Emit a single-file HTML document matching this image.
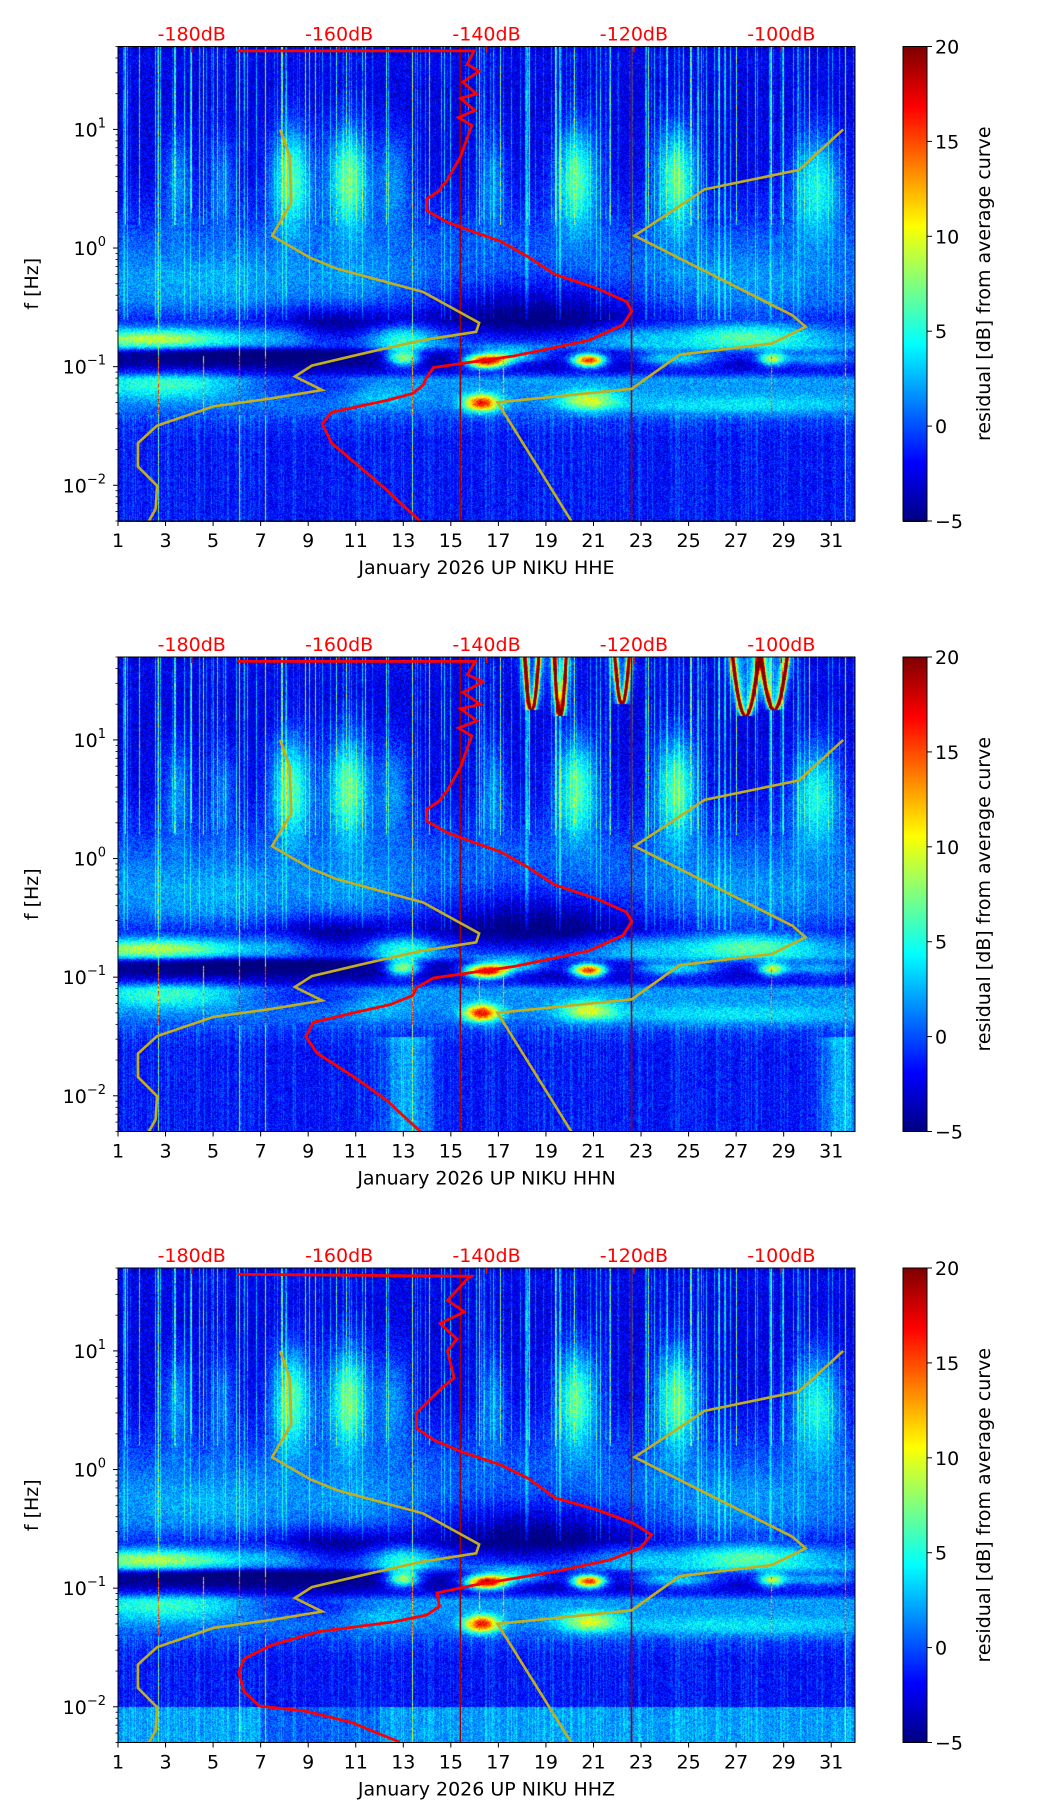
<!DOCTYPE html>
<html><head><meta charset="utf-8"><style>
html,body{margin:0;padding:0;background:#fff;}
#wrap{position:relative;width:1052px;height:1806px;overflow:hidden;font-family:"DejaVu Sans","Liberation Sans",sans-serif;}
canvas{position:absolute;}
svg{position:absolute;left:0;top:0;}
</style></head><body>
<div id="wrap">
<canvas id="c0"></canvas>
<canvas id="c1"></canvas>
<canvas id="c2"></canvas>
<canvas id="cb0"></canvas>
<canvas id="cb1"></canvas>
<canvas id="cb2"></canvas>
<svg id="ov" width="1052" height="1806"></svg>
</div>
<script>
// ---- data arrays ----
const channels = ["HHE","HHN","HHZ"];
const xTicks = [1,3,5,7,9,11,13,15,17,19,21,23,25,27,29,31];
const dbTicks = [-180,-160,-140,-120,-100];
const yTickExp = [1,0,-1,-2];
const cbTicks = [20,15,10,5,0,-5];
// base residual profile vs log10(f)
const baseLf = [1.7,1.62,1.3,0.6,0.3,0.1,-0.2,-0.45,-0.6,-0.72,-0.82,-0.88,-0.97,-1.04,-1.1,-1.25,-1.35,-1.45,-1.6,-2.31];
const baseV  = [-2.8,-2.2,-2.6,-2.3,-1.2,0,0.6,0.2,-1.5,0.5,1.5,-3,-4.2,-2,2,1.5,0.8,-0.8,-1.8,-1.8];
// blobs: day, log f, value, day-sigma, logf-sigma
const blobDay = [8.3,10.7,12.6,20.3,24.5,30.4,3.5,5.4,16.8, 3,11,27,6, 18.5,10, 2.5,13,27.5,22.5,8, 6, 16.5,20.8,13,28.5,25,30.5,17.6,23.5, 16.3,20.8,3,9, 27,12];
const blobLf  = [0.6,0.6,0.6,0.6,0.6,0.55,0.6,0.6,0.6, -0.3,-0.3,-0.3,-0.3, -0.55,-0.65, -0.76,-0.75,-0.74,-0.74,-0.72, -0.88, -0.95,-0.94,-0.92,-0.93,-0.93,-0.93,-0.9,-0.93, -1.3,-1.28,-1.15,-1.15, -1.32,-1.25];
const blobV   = [8.5,9,4,8.5,8.5,7,4,3,3.5, 1.5,1.5,1.5,1, -4.5,-3.5, 8,6,6,3,2, -4, 20,20,12,10,6,6,8,4, 16,8,4,-3, 3,2];
const blobSd  = [0.6,0.6,0.5,0.6,0.6,0.7,0.4,0.4,0.4, 2.5,2,2.5,1.5, 3.5,2, 2.5,1,2,1.5,1, 4, 0.6,0.5,0.5,0.4,1,1.5,1.2,0.8, 0.5,0.8,2,2, 4,1];
const blobSl  = [0.3,0.3,0.28,0.3,0.3,0.3,0.28,0.28,0.28, 0.2,0.2,0.2,0.2, 0.2,0.12, 0.06,0.08,0.08,0.08,0.08, 0.05, 0.04,0.04,0.05,0.04,0.05,0.05,0.05,0.05, 0.05,0.06,0.08,0.08, 0.06,0.08];
// transient stripes: day, lf-low, lf-high, value
const stripeDay = [1.3,1.9,2.7,3.4,4.1,4.6,5.2,6.1,7.2,7.9,8.9,9.3,10.2,10.6,11.4,12.3,13.4,14.1,16.2,17.1,18.3,19.4,20.2,21.7,23.3,24.1,25.1,26.3,27.0,28.5,29.0,30.1,31.6, 2.7,6.1,7.2,13.4,16.2,17.2,28.5,31.6,4.6];
const stripeLo  = [0.2,0.2,-2.3,0.2,0.3,0.2,0.2,-2.3,-2.3,0.2,0.2,0.2,0.2,0.2,0.2,0.2,-2.3,0.2,0.2,0.2,0.2,0.2,0.2,0.2,0.2,0.2,0.2,0.2,0.2,0.2,0.2,0.2,-2.3, -1.4,-1.4,-1.4,-1.4,-1.4,-1.4,-1.4,-1.4,-1.4];
const stripeHi  = [1.7,1.7,1.7,1.7,1.7,1.7,1.7,1.7,1.7,1.7,1.7,1.7,1.7,1.7,1.7,1.7,1.7,1.7,1.7,1.7,1.7,1.7,1.7,1.7,1.7,1.7,1.7,1.7,1.7,1.7,1.7,1.7,1.7, -0.9,-0.9,-0.9,-0.9,-0.9,-0.9,-0.9,-0.9,-0.9];
const stripeV   = [6,5,7,5,7,6,5,8,8,6,7,6,6,6,5,6,8,6,7,7,6,7,7,6,7,5,6,6,7,8,6,7,8, 14,16,16,14,12,12,14,14,12];
// V-shaped ringing features (panel HHN): day, half width, lf bottom
const vDay = [18.4,19.6,22.2,27.4,28.6];
const vW   = [0.3,0.25,0.3,0.55,0.55];
const vBot = [1.25,1.2,1.3,1.2,1.25];
// noise models (dB, log f)
const nlnmDb = [-168.0,-166.7,-166.5,-169.1,-163.9,-160.3,-148.6,-141.0,-141.4,-148.8,-155.9,-163.7,-166.0,-162.3,-169.2,-177.0,-184.7,-187.3,-187.3,-184.7,-184.9,-185.8];
const nlnmLf = [1.0,0.773,0.381,0.104,-0.083,-0.174,-0.370,-0.631,-0.706,-0.778,-0.877,-0.991,-1.083,-1.197,-1.268,-1.334,-1.497,-1.644,-1.841,-2.003,-2.20,-2.30];
const nhnmDb = [-91.6,-97.6,-110.4,-119.9,-98.5,-96.7,-101.3,-113.8,-120.3,-138.5,-128.5];
const nhnmLf = [1.0,0.659,0.495,0.104,-0.566,-0.664,-0.805,-0.899,-1.187,-1.301,-2.30];
// average curves (dB, log f) per channel
const redDbE = [-173.8,-141.7,-142.6,-141.0,-143.2,-141.4,-143.5,-141.6,-143.8,-142.0,-143.5,-145.3,-146.5,-148.1,-148.1,-145.3,-141.7,-138.0,-134.3,-130.7,-125.1,-121.0,-120.3,-121.5,-126.1,-136.2,-147.2,-148.1,-148.6,-150.0,-153.6,-161.0,-162.3,-161.0,-157.3,-153.6,-149.0];
const redLfE = [1.662,1.662,1.55,1.49,1.40,1.30,1.263,1.16,1.10,1.035,0.773,0.577,0.48,0.414,0.316,0.218,0.136,0.055,-0.076,-0.223,-0.337,-0.452,-0.533,-0.648,-0.778,-0.909,-1.007,-1.089,-1.154,-1.226,-1.285,-1.383,-1.481,-1.644,-1.840,-2.036,-2.304];
const redDbN = [-173.8,-141.5,-142.6,-140.5,-143.2,-140.8,-143.5,-141.3,-143.8,-142.0,-143.5,-145.3,-146.5,-148.1,-148.1,-145.3,-141.7,-138.0,-134.3,-130.7,-125.1,-121.0,-120.3,-121.5,-126.1,-136.2,-147.2,-149.5,-150.0,-153.0,-158.0,-163.5,-164.5,-163.0,-158.0,-153.5,-149.0];
const redLfN = [1.662,1.662,1.55,1.49,1.40,1.30,1.263,1.16,1.10,1.035,0.773,0.577,0.48,0.414,0.316,0.218,0.136,0.055,-0.076,-0.223,-0.337,-0.452,-0.533,-0.648,-0.778,-0.909,-1.007,-1.089,-1.154,-1.23,-1.30,-1.38,-1.50,-1.64,-1.84,-2.04,-2.30];
const redDbZ = [-173.8,-142.1,-142.6,-145.3,-143.0,-146.3,-144.0,-145.3,-144.4,-146.3,-149.5,-149.5,-147.2,-143.5,-138.0,-134.3,-130.7,-125.1,-120.1,-117.6,-119.2,-123.3,-130.7,-141.7,-146.7,-146.4,-148.1,-152.7,-162.8,-169.2,-172.9,-173.6,-172.9,-170.8,-164.6,-158.2,-151.8];
const redLfZ = [1.646,1.629,1.606,1.427,1.33,1.231,1.10,1.002,0.773,0.675,0.479,0.349,0.251,0.153,0.038,-0.076,-0.239,-0.337,-0.452,-0.550,-0.664,-0.762,-0.860,-0.974,-1.040,-1.154,-1.226,-1.285,-1.366,-1.481,-1.595,-1.710,-1.873,-1.994,-2.036,-2.134,-2.298];
const redDb = [redDbE, redDbN, redDbZ];
const redLf = [redLfE, redLfN, redLfZ];

// ---- layout ----
const L = 118, R = 855, W = R - L, H = 474.5;
const tops = [46.5, 657, 1268];
const CBX = 903, CBW = 24, FS = 19;
const LFTOP = Math.log10(50), LFBOT = Math.log10(0.005);
const xDay = d => L + (d - 1) / 31 * W;
const yLf = (lf, top) => top + (LFTOP - lf) / (LFTOP - LFBOT) * H;
const xDb = db => L + (db + 190) / 100 * W;

function jet(t){t=Math.max(0,Math.min(1,t));const c=x=>Math.max(0,Math.min(1,x));
 return [c(1.5-Math.abs(4*t-3)),c(1.5-Math.abs(4*t-2)),c(1.5-Math.abs(4*t-1))];}
function interp(xs, ys, x){
 if (x >= xs[0]) return ys[0]; for (let i=1;i<xs.length;i++){ if (x >= xs[i]){const f=(x-xs[i])/(xs[i-1]-xs[i]);return ys[i]+f*(ys[i-1]-ys[i]);}} return ys[ys.length-1];}
function hash(a,b){let h=(a*374761393+b*668265263)|0;h=(h^(h>>>13))*1274126177|0;return ((h^(h>>>16))>>>0)/4294967296;}

function field(d, lf, p, px, py){
 let v = interp(baseLf, baseV, lf);
 for (let i=0;i<blobDay.length;i++){
   const dd=(d-blobDay[i])/blobSd[i], dl=(lf-blobLf[i])/blobSl[i];
   const e=dd*dd+dl*dl; if (e<12) v += blobV[i]*Math.exp(-0.5*e);
 }
 if (p===2 && lf < -2.0) v += 3.5 + (d>7&&d<12 ? -1.5:0);
 if (p===1 && lf < -1.5){ v += 4*Math.exp(-0.5*((d-13.2)/0.7)**2) + 4*Math.exp(-0.5*((d-31.4)/0.6)**2); }
 if (p===1){
   for (let i=0;i<vDay.length;i++){
     if (lf > vBot[i]){ const f=(lf-vBot[i])/(LFTOP-vBot[i]); const arm=vW[i]*Math.sqrt(f);
       const dist=Math.min(Math.abs(d-(vDay[i]-arm)),Math.abs(d-(vDay[i]+arm)));
       v += 22*Math.exp(-0.5*(dist/0.06)**2) + 6*Math.exp(-0.5*(dist/0.18)**2);
       if (i>=3 && Math.abs(d-vDay[i])<arm) v += 3; }
   }
 }
 const hc = hash(px, 7), hc2 = hash(px, 13);
 if (lf > 0.25 && hc > 0.8) v += (hc-0.8)*35*(0.6+0.4*hash(px, Math.floor(lf*6)));
 else if (lf <= 0.25 && lf > -0.6 && hc > 0.85) v += (hc-0.85)*25;
 else if (lf < -1.4 && hc2 > 0.5) v += (hc2-0.5)*4;
 for (let i=0;i<stripeDay.length;i++){
   if (lf>=stripeLo[i] && lf<=stripeHi[i] && Math.abs(xDay(d)-xDay(stripeDay[i]))<0.6) v = Math.max(v, stripeV[i] + (hash(px,py)-0.5)*4);
 }
 v += (hash(px, py)-0.5)*3.5;
 return v;
}

for (let p=0;p<3;p++){
 const cv=document.getElementById('c'+p); const w=Math.round(W), h=Math.round(H);
 cv.width=w; cv.height=h; cv.style.left=L+'px'; cv.style.top=tops[p]+'px';
 const ctx=cv.getContext('2d'); const img=ctx.createImageData(w,h);
 for (let y=0;y<h;y++){ const lf=LFTOP-(y+0.5)/h*(LFTOP-LFBOT);
  for (let x=0;x<w;x++){ const d=1+(x+0.5)/w*31; const v=field(d,lf,p,x,y+p*1000);
   const c=jet((v+5)/25); const k=(y*w+x)*4;
   img.data[k]=c[0]*255; img.data[k+1]=c[1]*255; img.data[k+2]=c[2]*255; img.data[k+3]=255; }}
 ctx.putImageData(img,0,0);
 const cb=document.getElementById('cb'+p); cb.width=CBW; cb.height=h; cb.style.left=CBX+'px'; cb.style.top=tops[p]+'px';
 const cc=cb.getContext('2d'); for (let y=0;y<h;y++){const c=jet(1-y/h);cc.fillStyle=`rgb(${c[0]*255|0},${c[1]*255|0},${c[2]*255|0})`;cc.fillRect(0,y,CBW,1);}
}

const NS='http://www.w3.org/2000/svg'; const ov=document.getElementById('ov');
function mk(tag, attrs, parent){const e=document.createElementNS(NS,tag);for(const k in attrs)e.setAttribute(k,attrs[k]);(parent||ov).appendChild(e);return e;}
for (let p=0;p<3;p++){
 const T=tops[p], B=T+H;
 const g=mk('g',{});
 
 
 [15.4,22.6].forEach(d=>{const l=mk('line',{x1:xDay(d),x2:xDay(d),y1:T,y2:B,stroke:'#a00000','stroke-width':1.6},g);
   
   });
 const lineOf=(dbs,lfs)=>dbs.map((db,i)=>xDb(db) + ',' + yLf(lfs[i],T)).join(' ');
 const ln=mk('polyline',{points:lineOf(nlnmDb,nlnmLf),fill:'none',stroke:'#c2ae1e','stroke-width':2.6},g);
 
 
 const hn=mk('polyline',{points:lineOf(nhnmDb,nhnmLf),fill:'none',stroke:'#c2ae1e','stroke-width':2.6},g);
 
 
 const rc=mk('polyline',{points:lineOf(redDb[p],redLf[p]),fill:'none',stroke:'#ff0000','stroke-width':2.8},g);
 
 
 const fr=mk('rect',{x:L,y:T,width:W,height:H,fill:'none',stroke:'#000','stroke-width':1},g);
 
 
 xTicks.forEach(d=>{const x=xDay(d);mk('line',{x1:x,x2:x,y1:B,y2:B+5,stroke:'#000'},g);
  const t=mk('text',{x:x,y:B+26,'text-anchor':'middle','font-size':FS},g);t.textContent=d;
  
  });
 const xl=mk('text',{x:(L+R)/2,y:B+53,'text-anchor':'middle','font-size':FS},g);xl.textContent='January 2026 UP NIKU  '+channels[p];
 
 
 dbTicks.forEach(db=>{const x=xDb(db);mk('line',{x1:x,x2:x,y1:T,y2:T+6,stroke:'#ff0000','stroke-width':1.5},g);
  const t=mk('text',{x:x,y:T-6,'text-anchor':'middle','font-size':FS,fill:'#ff0000'},g);t.textContent=db+'dB';
  
  });
 for (let e=-3;e<=1;e++){ for (let m=1;m<10;m++){ const lf=e+Math.log10(m); if (lf<LFBOT-1e-6||lf>LFTOP+1e-6) continue;
   const y=yLf(lf,T); mk('line',{x1:L-(m===1?5:2.5),x2:L,y1:y,y2:y,stroke:'#000','stroke-width':m===1?1:0.8},g);}}
 yTickExp.forEach(e=>{const y=yLf(e,T);const t=mk('text',{x:L-12,y:y+7,'text-anchor':'end','font-size':FS},g);
  
  
  t.appendChild(document.createTextNode('10'));const s=mk('tspan',{dy:-9,'font-size':13},t);s.textContent=e<0?'\u2212'+(-e):e;});
 const yl=mk('text',{x:0,y:0,'text-anchor':'middle','font-size':FS,transform:`translate(38,${T+H/2}) rotate(-90)`},g);yl.textContent='f [Hz]';
 
 
 mk('rect',{x:CBX,y:T,width:CBW,height:H,fill:'none',stroke:'#000','stroke-width':1},g);
 cbTicks.forEach(v=>{const y=T+(20-v)/25*H;mk('line',{x1:CBX+CBW,x2:CBX+CBW+5,y1:y,y2:y,stroke:'#000'},g);
  const t=mk('text',{x:CBX+CBW+8,y:y+7,'font-size':FS},g);t.textContent=v<0?'\u2212'+(-v):v;
  
  });
 const cl=mk('text',{x:0,y:0,'text-anchor':'middle','font-size':FS,transform:`translate(990,${T+H/2}) rotate(-90)`},g);cl.textContent='residual [dB] from average curve';
 
 
}
</script>
</body></html>
